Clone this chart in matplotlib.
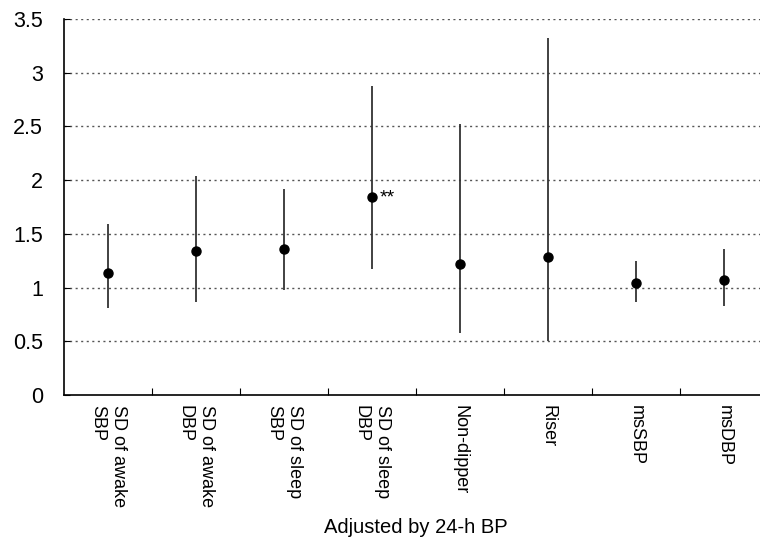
import matplotlib
matplotlib.use("Agg")
import matplotlib.pyplot as plt
import numpy as np

categories = ["SD of awake\nSBP", "SD of awake\nDBP", "SD of sleep\nSBP", "SD of sleep\nDBP",
              "Non-dipper", "Riser", "msSBP", "msDBP"]
estimate = [1.14, 1.34, 1.36, 1.84, 1.22, 1.28, 1.04, 1.07]
lower = [0.81, 0.87, 0.98, 1.17, 0.58, 0.50, 0.87, 0.83]
upper = [1.59, 2.04, 1.92, 2.88, 2.52, 3.32, 1.25, 1.36]
significance = ["", "", "", "**", "", "", "", ""]
yticks = [0, 0.5, 1, 1.5, 2, 2.5, 3, 3.5]
ytick_labels = ["0", "0.5", "1", "1.5", "2", "2.5", "3", "3.5"]

plt.rcParams['font.family'] = ['Liberation Sans', 'DejaVu Sans']

fig = plt.figure(figsize=(7.6, 5.42), dpi=100)
W, H = 760, 542
left, right, top, bottom = 64, 768, 19, 395
ax = fig.add_axes([left / W, 1 - bottom / H, (right - left) / W, (bottom - top) / H])

x = np.arange(1, len(categories) + 1)
ax.vlines(x, lower, upper, color="#333333", lw=1.3, zorder=3)
ax.plot(x, estimate, "o", color="black", markersize=6.5, zorder=4)
for xi, yi, s in zip(x, estimate, significance):
    if s:
        ax.text(xi + 0.09, yi - 0.01, s, fontsize=14, va="center", ha="left")

ax.set_xlim(0.5, len(categories) + 0.5)
ax.set_ylim(0, 3.5)
ax.set_yticks(yticks)
ax.set_yticklabels(ytick_labels, fontsize=15.5)
ax.tick_params(axis="y", direction="in", length=4, pad=15)
for y in yticks[1:]:
    ax.axhline(y, color="#555555", lw=1.0, ls=(0, (1.5, 2.5)), zorder=1)

ax.set_xticks(np.arange(1.5, len(categories) + 0.5, 1))
ax.set_xticklabels([])
ax.tick_params(axis="x", which="major", direction="in", length=5)
ax.set_xticks(x, minor=True)
ax.set_xticklabels(categories, minor=True, rotation=270, fontsize=13, va="top", ha="center",
                   rotation_mode="default", multialignment="left", linespacing=1.35)
ax.tick_params(axis="x", which="minor", length=0, pad=7)
ax.set_xlabel("Adjusted by 24-h BP", fontsize=14.5, labelpad=8)

for s in ["top", "right"]:
    ax.spines[s].set_visible(False)
for s in ["left", "bottom"]:
    ax.spines[s].set_linewidth(1.2)

fig.savefig("out.png", dpi=100)
